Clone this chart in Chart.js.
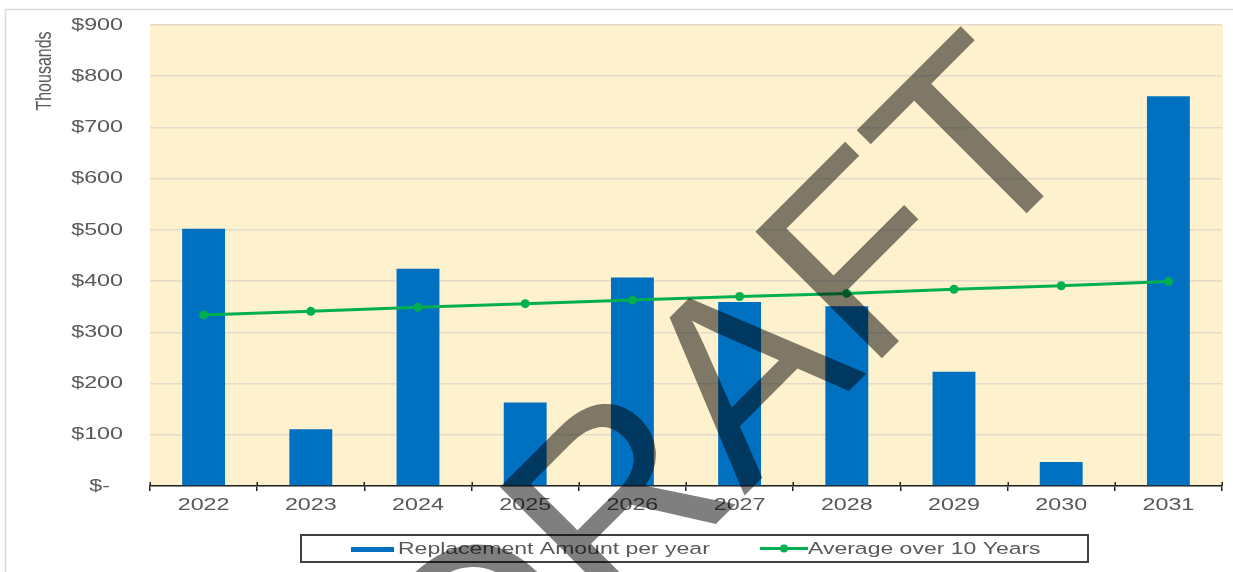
<!DOCTYPE html>
<html>
<head>
<meta charset="utf-8">
<script src="https://cdn.jsdelivr.net/npm/chart.js@4.4.1/dist/chart.umd.min.js"></script>
<style>
html,body{margin:0;padding:0;background:#ffffff;}
#wrap{width:1233px;height:572px;position:relative;}
</style>
</head>
<body>
<div id="wrap"><canvas id="c" width="1233" height="572"></canvas></div>
<script>
// ---- data ----
const categories = ['2022','2023','2024','2025','2026','2027','2028','2029','2030','2031'];
const replacementAmounts = [502, 111, 424, 163, 407, 359, 351, 223, 47, 761];
const tenYearAverage = [334, 341, 349, 356, 363, 370, 376, 384, 391, 399];
const yTickLabels = ['$-  ','$100','$200','$300','$400','$500','$600','$700','$800','$900'];
const seriesNames = ['Replacement Amount per year', 'Average over 10 Years'];
const unitLabel = 'Thousands';
const watermarkText = 'DRAFT';

// ---- styling ----
const BAR_COLOR = '#0070C0';
const LINE_COLOR = '#00B050';
const TEXT_COLOR = '#595959';
const PLOT_BG = '#FEF1CD';
const FONT = '"Liberation Sans", Arial, sans-serif';
const STRETCH = 1.37; // the original chart text is horizontally stretched
const origFill = CanvasRenderingContext2D.prototype.fillText;

const stretchPlugin = {
  id: 'stretchText',
  beforeInit(chart) {
    const ctx = chart.ctx;
    ctx.fillText = function (text, x, y) {
      this.save();
      this.translate(x, y);
      this.scale(STRETCH, 1);
      origFill.call(this, text, 0, 0);
      this.restore();
    };
  }
};

const decorPlugin = {
  id: 'decor',
  beforeDraw(chart) {
    const ctx = chart.ctx;
    const a = chart.chartArea;
    ctx.save();
    ctx.fillStyle = '#ffffff';
    ctx.fillRect(0, 0, chart.width, chart.height);
    ctx.strokeStyle = '#dcdcdc';
    ctx.lineWidth = 1.5;
    ctx.strokeRect(5.5, 9.5, 1300, 700);
    ctx.fillStyle = PLOT_BG;
    ctx.fillRect(a.left, a.top, a.right - a.left + 1, a.bottom - a.top);
    ctx.restore();
  },
  afterDatasetsDraw(chart) {
    const ctx = chart.ctx;
    const xs = chart.scales.x;
    const b = chart.chartArea.bottom;
    ctx.save();
    ctx.strokeStyle = '#222222';
    ctx.lineWidth = 1.5;
    for (let i = 0; i <= categories.length; i++) {
      const px = Math.round(xs.getPixelForValue(i - 0.5)) + 0.25;
      ctx.beginPath();
      ctx.moveTo(px, b - 4);
      ctx.lineTo(px, b);
      ctx.stroke();
    }
    ctx.restore();
  },
  afterDraw(chart) {
    const ctx = chart.ctx;
    const ds = chart.data.datasets;
    // unit label
    ctx.save();
    ctx.translate(45, 71);
    ctx.scale(STRETCH, 1);
    ctx.rotate(-Math.PI / 2);
    ctx.font = '16px ' + FONT;
    ctx.fillStyle = TEXT_COLOR;
    ctx.textAlign = 'center';
    ctx.textBaseline = 'middle';
    origFill.call(ctx, unitLabel, 0, 0);
    ctx.restore();

    // legend
    ctx.save();
    ctx.strokeStyle = '#404040';
    ctx.lineWidth = 2;
    ctx.strokeRect(301, 535, 787, 27);
    ctx.fillStyle = ds[1].backgroundColor;
    ctx.fillRect(351, 547, 43, 5);
    ctx.font = '16.8px ' + FONT;
    ctx.fillStyle = TEXT_COLOR;
    ctx.textAlign = 'left';
    ctx.textBaseline = 'middle';
    ctx.fillText(ds[1].label, 398, 549);
    ctx.strokeStyle = ds[0].borderColor;
    ctx.lineWidth = 3;
    ctx.beginPath();
    ctx.moveTo(760, 548.5);
    ctx.lineTo(808, 548.5);
    ctx.stroke();
    ctx.fillStyle = ds[0].borderColor;
    ctx.beginPath();
    ctx.arc(784, 548.5, 4, 0, Math.PI * 2);
    ctx.fill();
    ctx.fillStyle = TEXT_COLOR;
    ctx.fillText(ds[0].label, 808, 549);
    ctx.restore();

    // watermark
    ctx.save();
    ctx.translate(785, 455);
    ctx.rotate(-Math.PI / 4);
    ctx.font = '260px ' + FONT;
    ctx.fillStyle = 'rgba(0,0,0,0.5)';
    ctx.textAlign = 'center';
    ctx.textBaseline = 'alphabetic';
    origFill.call(ctx, watermarkText, 0, 0);
    ctx.restore();
  }
};

new Chart(document.getElementById('c'), {
  data: {
    labels: categories,
    datasets: [
      {
        type: 'line',
        label: seriesNames[1],
        data: tenYearAverage,
        borderColor: LINE_COLOR,
        backgroundColor: LINE_COLOR,
        borderWidth: 3,
        pointRadius: 4.5,
        pointBackgroundColor: LINE_COLOR,
        pointBorderWidth: 0,
        tension: 0,
        order: 0
      },
      {
        type: 'bar',
        label: seriesNames[0],
        data: replacementAmounts,
        backgroundColor: BAR_COLOR,
        borderWidth: 0,
        barPercentage: 0.4,
        categoryPercentage: 1.0,
        order: 1
      }
    ]
  },
  options: {
    responsive: false,
    animation: false,
    devicePixelRatio: 1,
    layout: { padding: { left: 0, right: 11, top: 25, bottom: 0 } },
    plugins: { legend: { display: false }, tooltip: { enabled: false } },
    scales: {
      x: {
        type: 'category',
        offset: true,
        grid: {
          offset: true,
          drawOnChartArea: false,
          drawTicks: true,
          tickLength: 5,
          color: '#222222',
          lineWidth: 1.5
        },
        border: { display: true, color: '#222222', width: 1.5 },
        ticks: {
          color: TEXT_COLOR,
          font: { family: FONT, size: 17 },
          padding: 4,
          maxRotation: 0,
          autoSkip: false
        },
        afterFit(scale) { scale.height = 86; }
      },
      y: {
        min: 0,
        max: 900,
        grid: {
          color: '#E3DCCA',
          lineWidth: 1.5,
          drawTicks: false
        },
        border: { display: false },
        ticks: {
          stepSize: 100,
          color: TEXT_COLOR,
          font: { family: FONT, size: 17 },
          padding: 27,
          callback: (v, i) => yTickLabels[i]
        },
        afterFit(scale) {
          scale.width = 150;
          scale.paddingTop = 11;
          scale.paddingBottom = 11;
        }
      }
    }
  },
  plugins: [stretchPlugin, decorPlugin]
});
</script>
</body>
</html>
